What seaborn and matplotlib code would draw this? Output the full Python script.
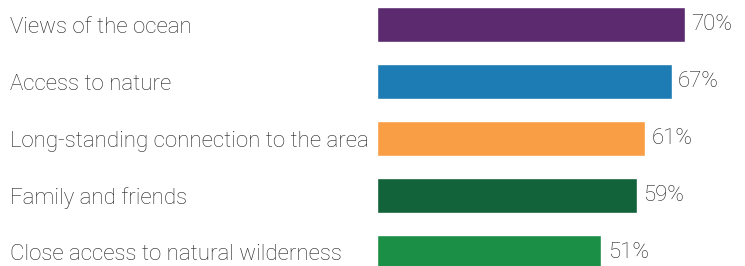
import matplotlib
matplotlib.use("Agg")
import matplotlib.pyplot as plt
import pandas
import seaborn

CATEGORIES = [
    "Views of the ocean",
    "Access to nature",
    "Long-standing connection to the area",
    "Family and friends",
    "Close access to natural wilderness",
]
VALUES = [70, 67, 61, 59, 51]
COLORS = ["#5C2A6F", "#1D7CB4", "#F99E45", "#12623A", "#1C8F47"]

TEXT_COLOR = "#222222"


def draw_graph():
    seaborn.set_style("white")
    plt.rcParams["font.family"] = ["Roboto", "DejaVu Sans"]

    df = pandas.DataFrame({"item": CATEGORIES, "value": VALUES})

    fig = plt.figure(figsize=(7.45, 2.66), dpi=100)
    left = 377 / 745
    ax = fig.add_axes([left, 0, 1 - left, 1])

    seaborn.barplot(x="value", y="item", hue="item", data=df,
                    palette=COLORS, saturation=1, width=0.605, legend=False,
                    orient="h", ax=ax)

    ax.set_xlim(0, (745 - 377) / 4.4)
    ax.set_ylim(4.237, -0.43)

    for container in ax.containers:
        ax.bar_label(container, labels=[f"{v:.0f}%" for v in container.datavalues],
                     padding=4.5, fontsize=16, color=TEXT_COLOR,
                     fontweight="light")

    # category names, left aligned at the left edge of the figure
    ax.set_yticks(range(len(CATEGORIES)))
    ax.set_yticklabels(CATEGORIES, fontsize=16, color=TEXT_COLOR,
                       fontweight="light")
    for lab in ax.get_yticklabels():
        lab.set_ha("left")
    ax.tick_params(axis="y", length=0, pad=(377 - 10) * 0.72)
    ax.set_xticks([])
    ax.set_xlabel("")
    ax.set_ylabel("")
    seaborn.despine(ax=ax, left=True, bottom=True)

    fig.savefig("out.png", dpi=100)


draw_graph()
